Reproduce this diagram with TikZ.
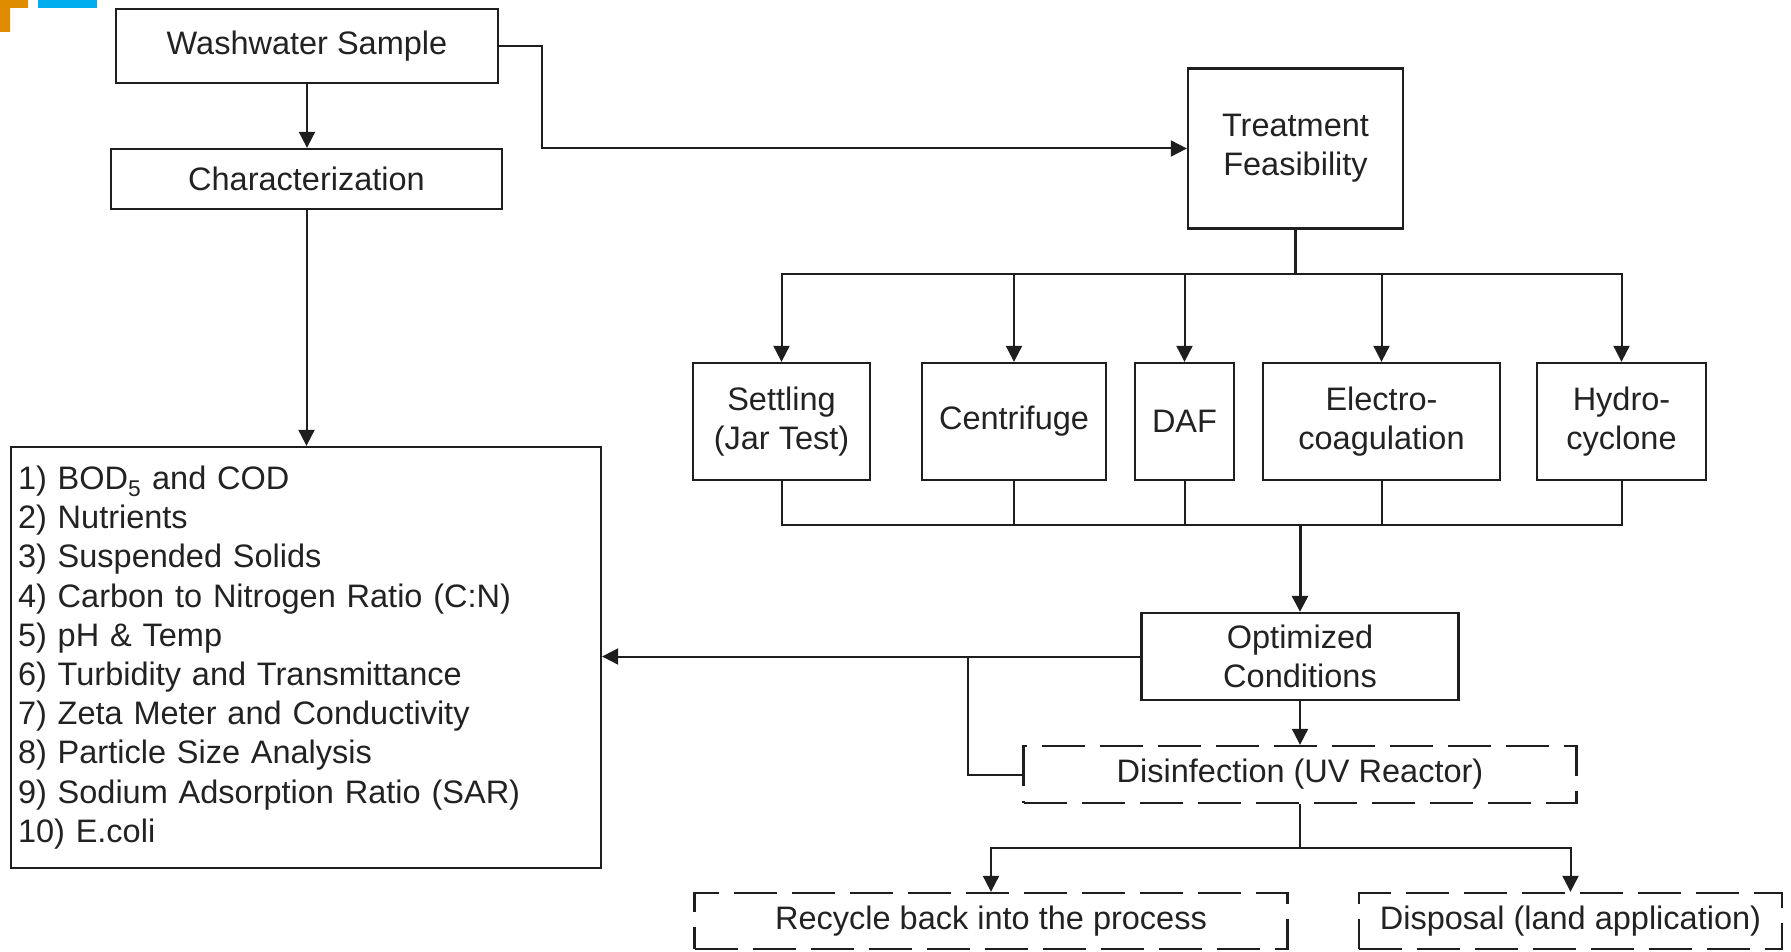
\documentclass[tikz,border=0pt]{standalone}
\usepackage{fontspec}
\setmainfont{Liberation Sans}
\usetikzlibrary{arrows.meta,calc}
\definecolor{lineC}{HTML}{1E1E1E}
\definecolor{txtC}{HTML}{222222}
\definecolor{markO}{HTML}{E08C00}
\definecolor{markB}{HTML}{00AEEF}
\begin{document}
\begin{tikzpicture}[x=1pt,y=-1pt,
  box/.style={draw=lineC, line width=2.3pt, inner sep=0pt, align=center, text=txtC,
    font=\fontsize{32.5}{39.2}\selectfont},
  wh/.style 2 args={minimum width=#1pt, minimum height=#2pt},
  dbox/.style={box, dash pattern=on 43pt off 15pt},
  conn/.style={draw=lineC, line width=2pt},
  thickconn/.style={draw=lineC, line width=3pt},
  tip/.style={-{Triangle[length=16pt,width=16pt]}},
  arr/.style={conn, tip},
]
\useasboundingbox (0,0) rectangle (1791,952);

% corner marks
\fill[markO] (0,0) -- (28,0) -- (28,8) -- (10,8) -- (10,32) -- (0,32) -- cycle;
\fill[markB] (38,0) rectangle (97,8);

% boxes
\node[box, wh={382}{74}] (wash) at (307,46) {Washwater Sample};
\node[box, wh={391}{60}] (char) at (306.5,179) {Characterization};
\node[box, wh={590}{421}, text width=576pt, inner xsep=7pt, align=left] (list) at (306,657.5)
  {1) BOD\textsubscript{5} and COD\\
   2) Nutrients\\
   3) Suspended Solids\\
   4) Carbon to Nitrogen Ratio (C:N)\\
   5) pH \& Temp\\
   6) Turbidity and Transmittance\\
   7) Zeta Meter and Conductivity\\
   8) Particle Size Analysis\\
   9) Sodium Adsorption Ratio (SAR)\\
   10) E.coli};
\node[box, wh={215}{160}] (treat) at (1295.5,148.5) {Treatment\\Feasibility};
\node[box, wh={177}{117}] (settle) at (781.5,421.5) {Settling\\(Jar Test)};
\node[box, wh={184}{117}] (centri) at (1014,421.5) {Centrifuge};
\node[box, wh={99}{117}] (daf) at (1184.5,421.5) {DAF};
\node[box, wh={237}{117}] (electro) at (1381.5,421.5) {Electro-\\coagulation};
\node[box, wh={169}{117}] (hydro) at (1621.5,421.5) {Hydro-\\cyclone};
\node[box, wh={317}{87}] (optim) at (1300,656.5) {Optimized\\Conditions};
\node[dbox, wh={553}{57}] (disinf) at (1300,774.5) {Disinfection (UV Reactor)};
\node[dbox, wh={593}{56}] (recycle) at (991,921) {Recycle back into the process};
\node[dbox, wh={423}{56}] (dispo) at (1570.5,921) {Disposal (land application)};

% helper coordinates
\coordinate (busT) at (1295.5,274);
\coordinate (busB) at (1300,525);
\coordinate (br) at (967.5,656.5);
\coordinate (busC) at (1300,847.5);

% connectors
\draw[arr] (wash.south) -- (wash.south |- char.north);
\draw[arr] (char.south) -- (char.south |- list.north);
\draw[arr] (wash.east) -- ++(43,0) |- (treat.west);

\draw[thickconn] (treat.south) -- (busT);
\draw[arr] (busT) -| (settle.north);
\draw[arr] (busT) -| (hydro.north);
\draw[arr] (centri.north |- busT) -- (centri.north);
\draw[arr] (daf.north |- busT) -- (daf.north);
\draw[arr] (electro.north |- busT) -- (electro.north);

\draw[conn] (settle.south) |- (busB);
\draw[conn] (hydro.south) |- (busB);
\draw[conn] (centri.south) -- (centri.south |- busB);
\draw[conn] (daf.south) -- (daf.south |- busB);
\draw[conn] (electro.south) -- (electro.south |- busB);
\draw[thickconn, tip] (busB) -- (optim.north);

\draw[arr] (optim.west) -- (list.east |- optim.west);
\draw[conn] (br) |- (disinf.west);
\draw[arr] (optim.south) -- (disinf.north);

\draw[conn] (disinf.south) -- (busC);
\draw[arr] (busC) -| (recycle.north);
\draw[arr] (busC) -| (dispo.north);
\end{tikzpicture}
\end{document}
